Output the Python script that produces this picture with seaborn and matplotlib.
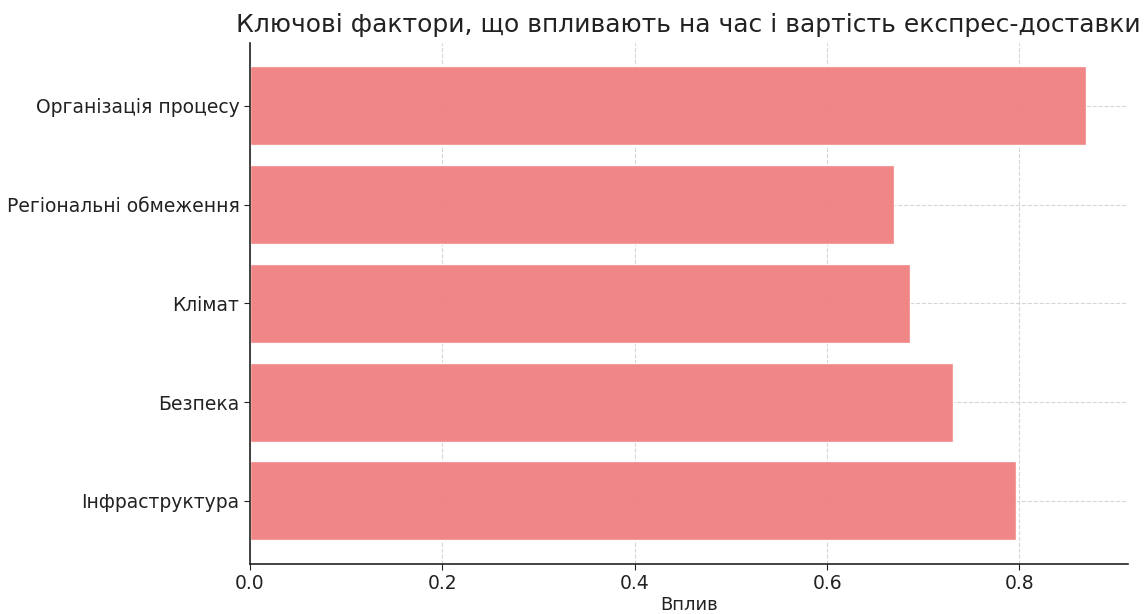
import seaborn as sns
import matplotlib.pyplot as plt
import pandas as pd

# Data
factors = ["Організація процесу", "Регіональні обмеження", "Клімат", "Безпека", "Інфраструктура"]
impact = [0.869, 0.670, 0.686, 0.731, 0.796]

df = pd.DataFrame({"Фактор": factors, "Вплив": impact})

sns.set_style("white")
plt.rcParams['font.family'] = ['DejaVu Sans']

fig = plt.figure(figsize=(11.46, 6.14), dpi=100)
ax = fig.add_axes([0.218, 0.0814, 0.766, 0.849])

sns.barplot(data=df, x="Вплив", y="Фактор", orient="h", color="lightcoral",
            saturation=1, width=0.8, alpha=0.95, ax=ax)

ax.set_ylim(4.64, -0.64)
ax.set_title("Ключові фактори, що впливають на час і вартість експрес-доставки",
             fontsize=18, color="#222222", pad=8)
ax.set_xlabel("Вплив", fontsize=13, color="#222222", labelpad=2)
ax.set_ylabel("")
ax.tick_params(axis="both", labelsize=13.5, colors="#222222", length=4, left=True, bottom=True)
ax.grid(True, linestyle="--", color="#cccccc", linewidth=0.8, alpha=0.8)
ax.set_axisbelow(True)
sns.despine(ax=ax)
for s in ["left", "bottom"]:
    ax.spines[s].set_color("#222222")
    ax.spines[s].set_linewidth(1.2)

fig.savefig("out.png", dpi=100)
